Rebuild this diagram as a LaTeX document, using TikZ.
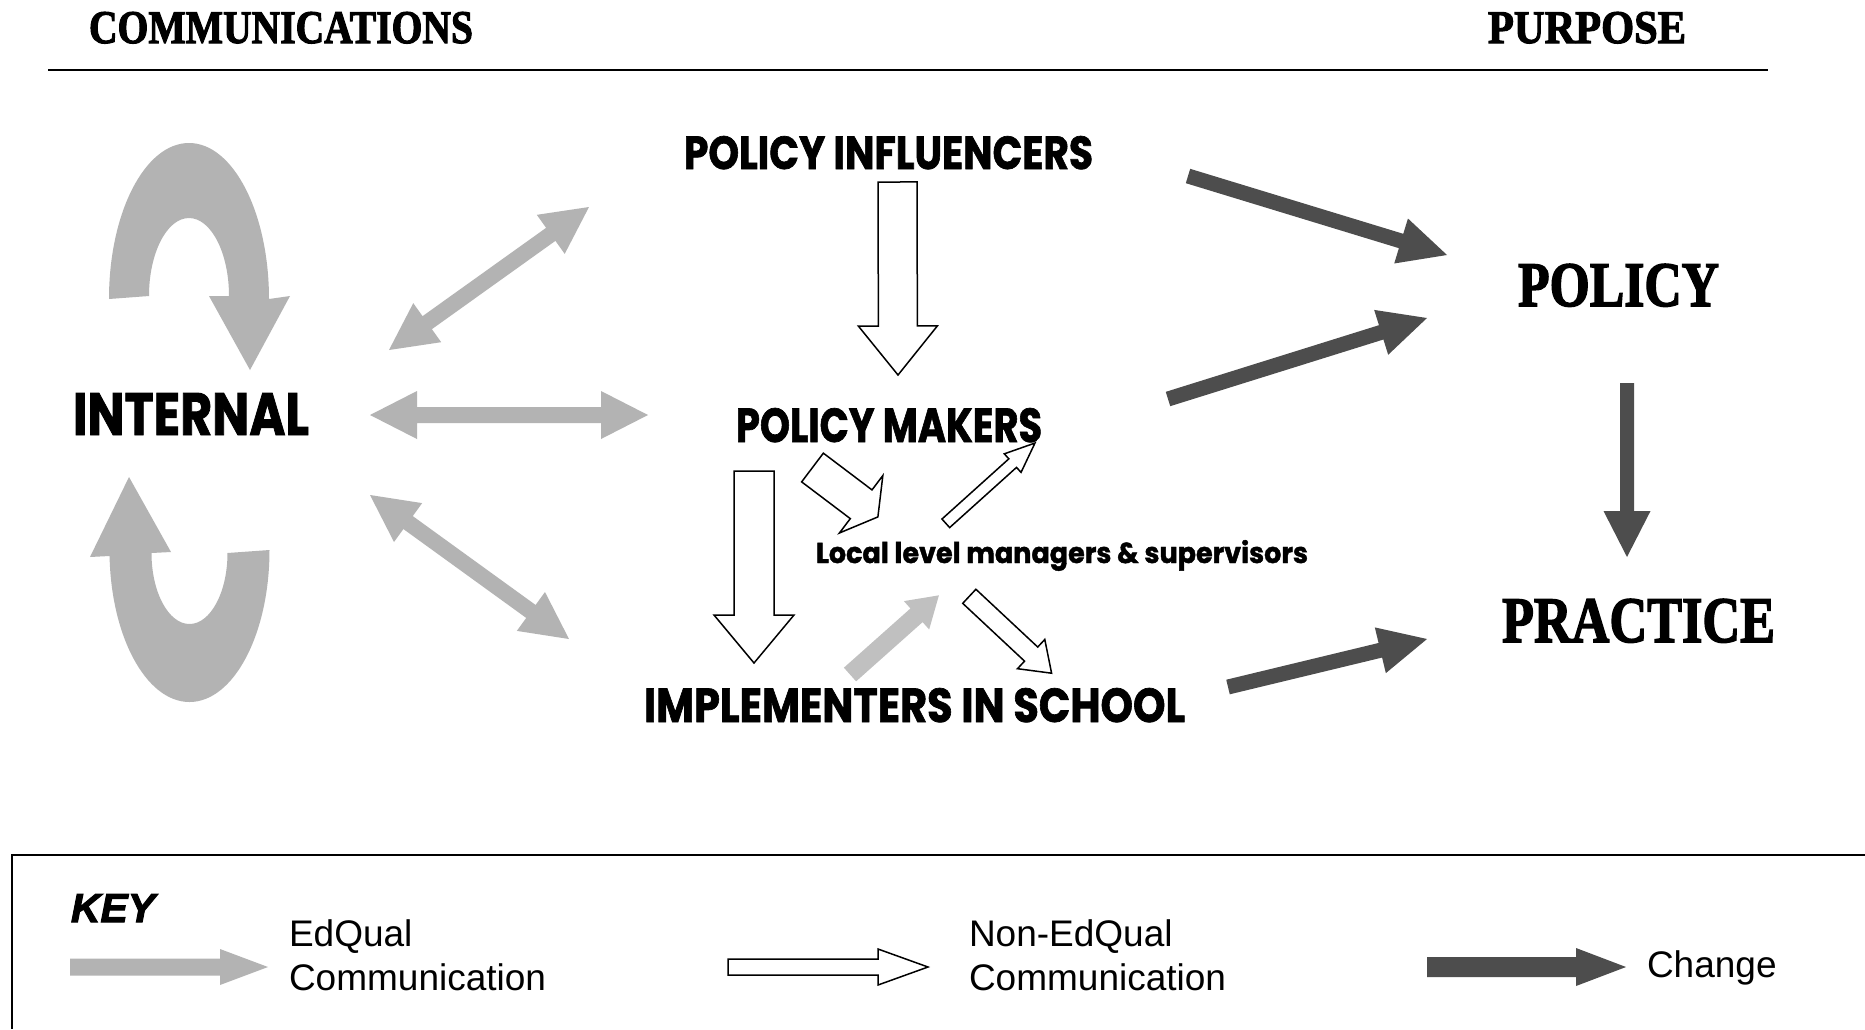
\documentclass[tikz,border=0pt]{standalone}
\usepackage{fontspec}
\setmainfont{Liberation Sans}[BoldItalicFeatures={FakeBold=2.5}]
\newfontfamily\serifb{Liberation Serif}[BoldFeatures={FakeBold=2.5}]
\newfontfamily\popf{Poppins}[BoldFeatures={FakeBold=1.5}]
\definecolor{lgray}{HTML}{B3B3B3}
\definecolor{mgray}{HTML}{C0C0C0}
\definecolor{dgray}{HTML}{4D4D4D}
% single block arrow: #1 style, #2 from, #3 to, #4 shaft width, #5 head width, #6 head length
\newcommand\blockarrow[6]{%
  \pgfpointdiff{\pgfpointanchor{#2}{center}}{\pgfpointanchor{#3}{center}}%
  \pgfgetlastxy{\baDx}{\baDy}%
  \pgfmathsetmacro\baAng{atan2(\baDy,\baDx)}%
  \pgfmathsetmacro\baLen{veclen(\baDx,\baDy)}%
  \pgfmathsetmacro\baW{#4/2}%
  \pgfmathsetmacro\baH{#5/2}%
  \pgfmathsetmacro\baB{\baLen-#6}%
  \path[#1,shift={(#2)},rotate=\baAng] (0pt,\baW pt) -- (\baB pt,\baW pt) -- (\baB pt,\baH pt)
    -- (\baLen pt,0pt) -- (\baB pt,-\baH pt) -- (\baB pt,-\baW pt) -- (0pt,-\baW pt) -- cycle;
}
% double block arrow
\newcommand\dblarrow[6]{%
  \pgfpointdiff{\pgfpointanchor{#2}{center}}{\pgfpointanchor{#3}{center}}%
  \pgfgetlastxy{\baDx}{\baDy}%
  \pgfmathsetmacro\baAng{atan2(\baDy,\baDx)}%
  \pgfmathsetmacro\baLen{veclen(\baDx,\baDy)}%
  \pgfmathsetmacro\baW{#4/2}%
  \pgfmathsetmacro\baH{#5/2}%
  \pgfmathsetmacro\baB{\baLen-#6}%
  \path[#1,shift={(#2)},rotate=\baAng] (0pt,0pt) -- (#6pt,\baH pt) -- (#6pt,\baW pt)
    -- (\baB pt,\baW pt) -- (\baB pt,\baH pt) -- (\baLen pt,0pt) -- (\baB pt,-\baH pt)
    -- (\baB pt,-\baW pt) -- (#6pt,-\baW pt) -- (#6pt,-\baH pt) -- cycle;
}
\begin{document}
\begin{tikzpicture}[x=1pt,y=-1pt,
  edq/.style={fill=lgray,draw=none},
  edqb/.style={fill=mgray,draw=none},
  nonedq/.style={fill=white,draw=black,line width=1.5pt,line join=miter},
  chg/.style={fill=dgray,draw=none},
  lbl/.style={inner sep=0pt,outer sep=0pt,anchor=base west},
  keytxt/.style={inner sep=0pt,outer sep=0pt,anchor=base west,font=\fontsize{37}{43}\selectfont},
]
\useasboundingbox (0,0) rectangle (1865,1029);
\fill[white] (0,0) rectangle (1865,1029);

% headings
\node[lbl] (comm) at (89,43) {\resizebox{384pt}{31pt}{\serifb\bfseries COMMUNICATIONS}};
\node[lbl] (purp) at (1488,43) {\resizebox{198pt}{31pt}{\serifb\bfseries PURPOSE}};
\coordinate (ruleL) at (48,70);
\coordinate (ruleR) at (1768,70);
\draw[line width=2.5pt] (ruleL) -- (ruleR);

% labels
\node[lbl] (infl) at (684,169) {\resizebox{409pt}{33pt}{\popf\bfseries POLICY INFLUENCERS}};
\node[lbl] (makers) at (736,442) {\resizebox{306pt}{34pt}{\popf\bfseries POLICY MAKERS}};
\node[lbl] (internal) at (73,435) {\resizebox{236pt}{42pt}{\popf\bfseries INTERNAL}};
\node[lbl] (impl) at (644,722) {\resizebox{541pt}{34pt}{\popf\bfseries IMPLEMENTERS IN SCHOOL}};
\node[lbl] (local) at (816,563) {\resizebox{492pt}{23pt}{\popf\bfseries Local level managers \& supervisors}};
\node[lbl] (policy) at (1518,306) {\resizebox{201pt}{42pt}{\serifb\bfseries POLICY}};
\node[lbl] (practice) at (1502,642) {\resizebox{273pt}{43pt}{\serifb\bfseries PRACTICE}};

% internal loops
\fill[lgray] (109,299) arc[start angle=180,end angle=360,x radius=80,y radius=156]
  -- (290,296) -- (250,370) -- (209,296) -- (229,296)
  arc[start angle=360,end angle=180,x radius=40,y radius=78] -- cycle;
\fill[lgray] (269.5,550) arc[start angle=0,end angle=180,x radius=80,y radius=152]
  -- (109.5,556) -- (90,557) -- (129,477) -- (171,552) -- (151.5,553)
  arc[start angle=180,end angle=0,x radius=38,y radius=71] -- cycle;

% EdQual double arrows
\coordinate (gd1a) at (389,350); \coordinate (gd1b) at (589,207);
\coordinate (gd2a) at (370,415); \coordinate (gd2b) at (648,415);
\coordinate (gd3a) at (370,495); \coordinate (gd3b) at (569,639);
\dblarrow{edq}{gd1a}{gd1b}{16}{48}{47}
\dblarrow{edq}{gd2a}{gd2b}{16}{48}{47}
\dblarrow{edq}{gd3a}{gd3b}{16}{48}{47}

% non-EdQual arrows
\coordinate (o1a) at (897.5,182); \coordinate (o1b) at (898,375);
\coordinate (o2a) at (754,471); \coordinate (o2b) at (754,663);
\coordinate (o3a) at (812.5,467.5); \coordinate (o3b) at (878,517);
\coordinate (o4a) at (945.8,523.3); \coordinate (o4b) at (1035,443);
\coordinate (o5a) at (969.3,596.3); \coordinate (o5b) at (1051.7,673.3);
\blockarrow{nonedq}{o1a}{o1b}{39}{79}{49}
\blockarrow{nonedq}{o2a}{o2b}{40}{80}{48}
\blockarrow{nonedq}{o3a}{o3b}{36}{72}{21}
\blockarrow{nonedq}{o4a}{o4b}{11.5}{25}{30}
\blockarrow{nonedq}{o5a}{o5b}{19.3}{40}{28}

% EdQual arrow implementers -> local
\coordinate (g1a) at (850,674.5); \coordinate (g1b) at (939.3,595);
\blockarrow{edqb}{g1a}{g1b}{18.3}{38}{30}

% change arrows
\coordinate (c1a) at (1188,176); \coordinate (c1b) at (1447,255);
\coordinate (c2a) at (1168,399); \coordinate (c2b) at (1427,318);
\coordinate (c3a) at (1228,687); \coordinate (c3b) at (1427,639);
\coordinate (c4a) at (1627,383); \coordinate (c4b) at (1627,557);
\blockarrow{chg}{c1a}{c1b}{15}{47}{48}
\blockarrow{chg}{c2a}{c2b}{15}{47}{48}
\blockarrow{chg}{c3a}{c3b}{15}{47}{48}
\blockarrow{chg}{c4a}{c4b}{14}{47}{46}

% key
\draw[line width=2pt] (1865,855) -- (12,855) -- (12,1029);
\node[lbl] (key) at (71,922) {\resizebox{84pt}{28pt}{\bfseries\itshape KEY}};
\coordinate (k1a) at (70,967); \coordinate (k1b) at (268,967);
\coordinate (k2a) at (728,967); \coordinate (k2b) at (928,967);
\coordinate (k3a) at (1427,967); \coordinate (k3b) at (1626,967);
\blockarrow{edq}{k1a}{k1b}{17}{36}{48}
\blockarrow{nonedq}{k2a}{k2b}{16}{36}{50}
\blockarrow{chg}{k3a}{k3b}{20}{38}{50}
\node[keytxt] (k1t1) at (289,946) {EdQual};
\node[keytxt] (k1t2) at (289,990) {Communication};
\node[keytxt] (k2t1) at (969,946) {Non-EdQual};
\node[keytxt] (k2t2) at (969,990) {Communication};
\node[keytxt] (k3t) at (1647,977) {Change};
\end{tikzpicture}
\end{document}
